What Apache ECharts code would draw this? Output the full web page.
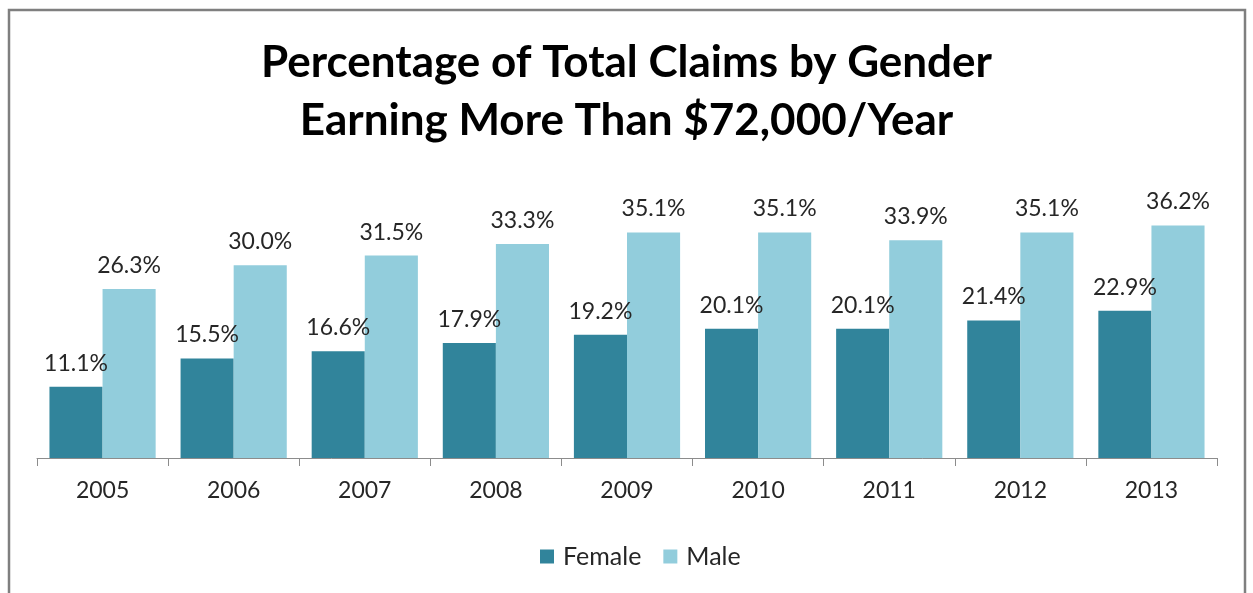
<!DOCTYPE html>
<html><head><meta charset="utf-8">
<script src="https://cdn.jsdelivr.net/npm/echarts@6/dist/echarts.min.js"></script>
<style>html,body{margin:0;padding:0;background:#fff;}#c{width:1253px;height:593px;}</style>
</head><body><div id="c"></div>
<script>
const years = ['2005','2006','2007','2008','2009','2010','2011','2012','2013'];
const female = [11.1, 15.5, 16.6, 17.9, 19.2, 20.1, 20.1, 21.4, 22.9];
const male = [26.3, 30.0, 31.5, 33.3, 35.1, 35.1, 33.9, 35.1, 36.2];
const titleText = 'Percentage of Total Claims by Gender\nEarning More Than $72,000/Year';

const chart = echarts.init(document.getElementById('c'));
const font = 'Lato, "Open Sans", sans-serif';
const lbl = {show:true, position:'top', distance:12, formatter: p => p.value.toFixed(1) + '%', fontFamily: font, fontSize: 23, color:'#262626'};
chart.setOption({
  animation:false,
  title:{text:titleText, left:'center', top:29, textStyle:{fontFamily:font, fontWeight:'bold', fontSize:44, lineHeight:58, color:'#000'}},
  graphic:[{type:'rect', shape:{x:9, y:10, width:1236, height:620}, style:{fill:null, stroke:'#7f7f7f', lineWidth:2.5}}],
  legend:{bottom:19, left:535, itemWidth:14, itemHeight:14, itemGap:22, icon:'rect', textStyle:{fontFamily:font, fontSize:25, color:'#262626', padding:[0,0,0,4]}},
  grid:{left:37, right:36, top:201, bottom:135},
  xAxis:{type:'category', data:years, axisLine:{lineStyle:{color:'#8c8c8c', width:1}}, axisTick:{show:true, length:8, lineStyle:{color:'#8c8c8c'}}, axisLabel:{fontFamily:font, fontSize:23, color:'#262626', margin:21}},
  yAxis:{type:'value', min:0, max:40, show:false, splitLine:{show:false}},
  series:[
    {name:'Female', type:'bar', data:female, barGap:'0%', barCategoryGap:'19%', itemStyle:{color:'#31849B'}, label:lbl},
    {name:'Male', type:'bar', data:male, itemStyle:{color:'#92CDDC'}, label:lbl}
  ]
});
</script></body></html>
